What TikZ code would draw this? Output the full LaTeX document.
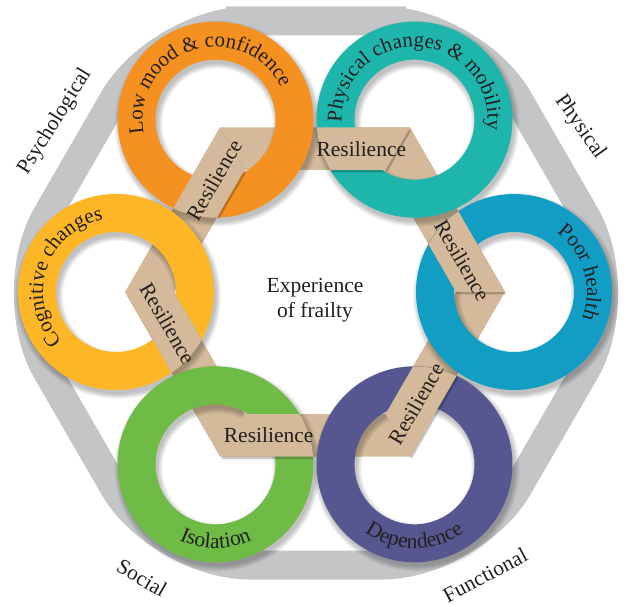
\documentclass[tikz,border=0pt]{standalone}
\usepackage{fontspec}
\setmainfont{Liberation Serif}
\usetikzlibrary{calc}
\definecolor{cOrange}{RGB}{244,145,32}
\definecolor{cTeal}{RGB}{30,182,172}
\definecolor{cBlue}{RGB}{18,157,196}
\definecolor{cPurple}{RGB}{86,87,145}
\definecolor{cGreen}{RGB}{110,187,70}
\definecolor{cYellow}{RGB}{252,182,38}
\definecolor{cBeige}{RGB}{212,186,154}
\definecolor{cGray}{RGB}{196,197,199}
\definecolor{cText}{RGB}{35,31,32}
\tikzset{
  lblfont/.style={font=\fontsize{21.5}{25}\selectfont, text=cText},
  gring/.style={line width=29pt, draw=cGray, rounded corners=90pt},
  arcchar/.style={anchor=base, inner sep=0pt, outer sep=0pt, text=cText},
}
\newdimen\arcacc
\newbox\arcbox
\newcommand\arcmeasure[2]{\pgfinterruptpicture\global\setbox\arcbox\hbox{\normalfont#1#2}\endpgfinterruptpicture}
\newcommand\ArcText[6]{% #1 centre, #2 radius, #3 mid angle, #4 dir (1 ccw, -1 cw), #5 font, #6 chars
  \global\arcacc=0pt
  \foreach \ch in {#6}{\arcmeasure{#5}{\ch}\global\advance\arcacc by \wd\arcbox}%
  \pgfmathsetmacro\arctot{\the\arcacc}%
  \global\arcacc=0pt
  \foreach \ch in {#6}{%
    \arcmeasure{#5}{\ch}%
    \pgfmathsetmacro\arcw{\the\wd\arcbox}%
    \pgfmathsetmacro\arcphi{#3+(#4)*((\the\arcacc+0.5*\arcw)-0.5*\arctot)/(#2)*180/pi}%
    \pgfmathsetmacro\arcrot{\arcphi+(#4)*90}%
    \node[arcchar, font=#5, rotate=\arcrot] at ($(#1)+(\arcphi:#2)$) {\ch};
    \global\advance\arcacc by \wd\arcbox
  }%
}
\newcommand\rfont{\fontsize{21}{21}\selectfont}
\newcommand\bfont{\fontsize{21.5}{21.5}\selectfont}
\begin{document}
\begin{tikzpicture}[x=1pt,y=1pt]
\useasboundingbox (-315,-315) rectangle (317,292);
\fill[white] (-315,-315) rectangle (317,292);
% gray frame
\draw[gring] (1,271) -- (158,271) -- (315,-1) -- (158,-273) -- (-156,-273) -- (-313,-1) -- (-156,271) -- cycle;
% ring centres
\coordinate (cB) at (0:199);
\coordinate (cT) at (60:199);
\coordinate (cO) at (120:199);
\coordinate (cY) at (180:199);
\coordinate (cG) at (240:199);
\coordinate (cP) at (300:199);
% resilience band
\fill[cBeige, even odd rule] (0:190) -- (60:190) -- (120:190) -- (180:190) -- (240:190) -- (300:190) -- cycle
  (0:141) -- (60:141) -- (120:141) -- (180:141) -- (240:141) -- (300:141) -- cycle;
% ring shadows
\foreach \c in {cB,cT,cO,cY,cG,cP}{
  \foreach \k in {0,...,5}
    \draw[black, opacity=0.045, line width={38pt+2pt*\k}] ([shift={(2,-4)}]\c) circle (79);
}
% rings
\foreach \c/\col in {cB/cBlue, cT/cTeal, cO/cOrange, cY/cYellow, cG/cGreen, cP/cPurple}
  \fill[\col, even odd rule] (\c) circle (98) (\c) circle (60);
% band parts lying over the rings
\foreach \c/\a/\b in {cT/120/60, cB/60/0, cP/0/-60, cG/-60/-120, cY/-120/-180, cO/180/120}{
  \begin{scope}
    \clip (\c) circle (98);
    \begin{scope}[shift={(1.5,-2.5)}]
      \fill[black, opacity=0.22] (\a:190) -- (\b:190) -- (\b:141) -- (\a:141) -- cycle;
    \end{scope}
    \fill[cBeige] (\a:190) -- (\b:190) -- (\b:141) -- (\a:141) -- cycle;
  \end{scope}
}
% ring labels
\ArcText{cO}{73}{108.5}{-1}{\rfont}{L,o,w,\ ,m,o,o,d,\ ,\&,\ ,c,o,n,f,i,d,e,n,c,e}
\ArcText{cT}{73}{87}{-1}{\rfont}{P,h,y,s,i,c,a,l,\ ,c,h,a,n,g,e,s,\ ,\&,\ ,m,o,b,i,l,i,t,y}
\ArcText{cB}{73}{16.5}{-1}{\rfont}{P,o,o,r,\ ,h,e,a,l,t,h}
\ArcText{cY}{73}{161}{-1}{\rfont}{C,o,g,n,i,t,i,v,e,\ ,c,h,a,n,g,e,s}
\ArcText{cG}{84}{270}{1}{\bfont}{I,s,o,l,a,t,i,o,n}
\ArcText{cP}{84}{270}{1}{\bfont}{D,e,p,e,n,d,e,n,c,e}
% resilience labels
\foreach \a/\b/\r [count=\i] in {120/60/0, 60/0/-60, 0/-60/60, -60/-120/0, -120/-180/-60, 180/120/60}
  \node[lblfont, rotate=\r] (res\i) at ($(\a:165.5)!0.78!(\b:165.5)$) {Resilience};
% centre
\node[lblfont, align=center] (centre) at (0,-8.5) {Experience\\of frailty};
% domain labels
\node[lblfont, rotate=58] (psy) at (-260,170) {Psychological};
\node[lblfont, rotate=-55] (phy) at (265,165) {Physical};
\node[lblfont, rotate=-30] (soc) at (-173,-286) {Social};
\node[lblfont, rotate=28] (fun) at (170,-283) {Functional};
\end{tikzpicture}
\end{document}
